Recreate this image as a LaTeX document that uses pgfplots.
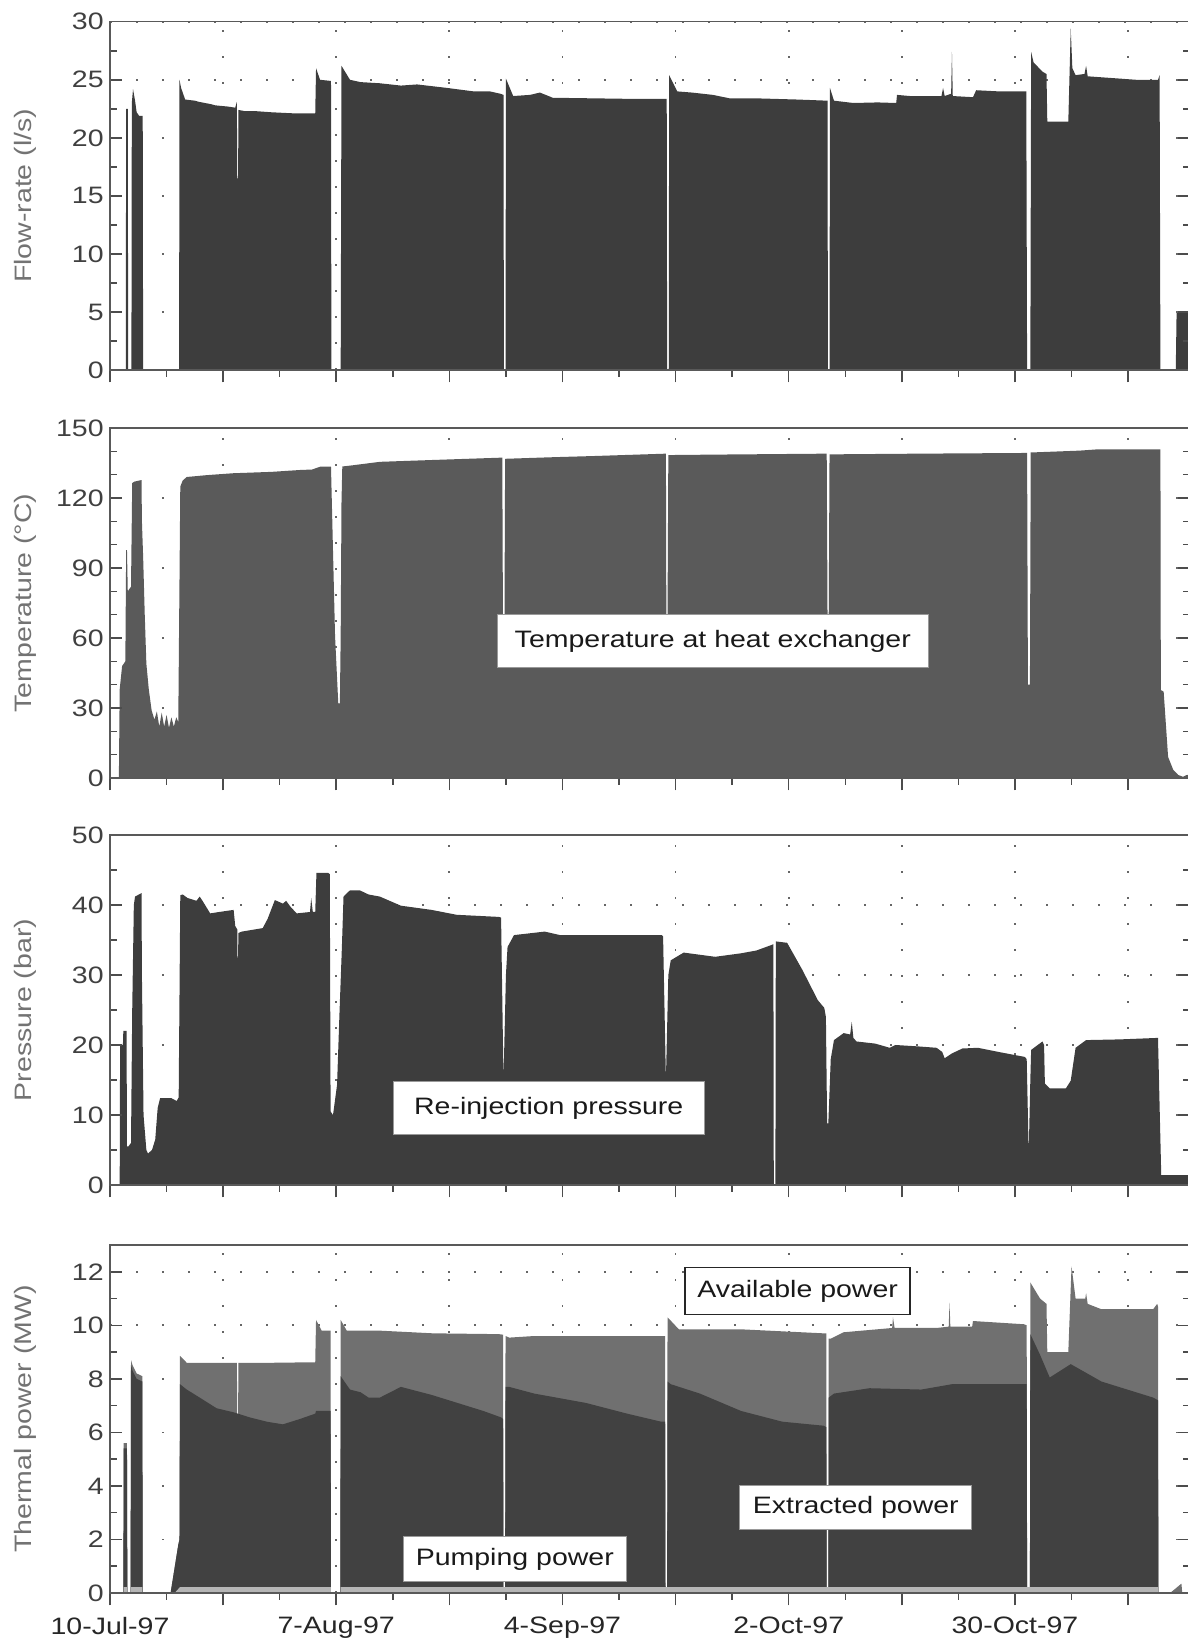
\documentclass[border=0pt]{standalone}
\usepackage{pgfplots}
\pgfplotsset{compat=1.18}
\usepackage{fontspec}
\setmainfont{Liberation Sans}[FakeStretch=1.2]
\definecolor{flowc}{HTML}{3D3D3D}
\definecolor{tempc}{HTML}{5A5A5A}
\definecolor{presc}{HTML}{3D3D3D}
\definecolor{availc}{HTML}{707070}
\definecolor{extrc}{HTML}{414141}
\definecolor{pumpc}{HTML}{B5B5B5}
\newcommand{\tf}{\fontsize{9.5}{11}\selectfont}
\tikzset{box/.style={fill=white, draw=black!40, line width=0.4pt, inner sep=0pt, font=\tf, text=black!90, anchor=center}}
\pgfplotsset{
  layers/mylayers/.define layer set={axis background,axis grid,main,axis ticks,axis lines,axis tick labels,axis descriptions,axis foreground}{
    grid style={/pgfplots/on layer=axis grid},
    tick style={/pgfplots/on layer=axis ticks},
    axis line style={/pgfplots/on layer=axis lines},
    label style={/pgfplots/on layer=axis descriptions},
    legend style={/pgfplots/on layer=axis descriptions},
    title style={/pgfplots/on layer=axis descriptions},
    colorbar style={/pgfplots/on layer=axis descriptions},
    ticklabel style={/pgfplots/on layer=axis tick labels},
    axis background@ style={/pgfplots/on layer=axis background},
    3d box foreground style={/pgfplots/on layer=axis foreground},
  },
  panel/.style={
    set layers=mylayers,
    scale only axis, width=432pt, anchor=south west,
    xmin=0, xmax=133.66, ymin=0,
    xtick={0,14,...,126}, minor x tick num=1,
    xtick pos=left,
    tick align=inside,
    major tick length=5pt, minor tick length=2.8pt,
    major x tick style={yshift=-5pt}, minor x tick style={yshift=-2.8pt},
    xmajorgrids, ymajorgrids,
    grid style={black!60, line width=0.7pt, dash pattern=on 0.7pt off 9.7pt},
    axis line style={black!65, line width=0.6pt},
    tick style={black!70, line width=0.6pt},
    yticklabel style={font=\tf, text=black!75, xshift=1pt},
    xticklabel style={font=\tf, text=black!85, yshift=-6pt},
    every axis y label/.style={at={(axis description cs:-0.0787,0.5)},rotate=90,anchor=center,font=\tf,text=black!55},
    /pgf/number format/assume math mode=true,
  },
}
\begin{document}
\begin{tikzpicture}
% ---------------- Panel 1: flow rate
\begin{axis}[panel, at={(0,489.2pt)}, height=139.3pt, ymax=30,
  ytick={0,5,...,30}, minor y tick num=1, xticklabels={},
  ylabel={Flow-rate (l/s)}]
\addplot[fill=flowc, draw=none] coordinates {
(1.95,0)(2.0,22.5)(2.2,22.5)(2.25,0)(2.65,0)(2.7,23.0)(2.85,24.2)(3.1,23.2)(3.3,22.2)(3.6,21.9)(4.05,21.9)(4.1,0)
(8.55,0)(8.6,25.0)(8.8,24.3)(9.3,23.3)(10.5,23.2)(11,23.1)(12.5,22.9)(13,22.8)(14.5,22.7)(15.5,22.6)(15.7,23.1)(15.75,16.5)(15.85,16.5)(15.9,22.4)(16.7,22.3)(18,22.3)(20,22.2)(23,22.1)(25.4,22.1)(25.5,26.0)(26.0,25.0)(27.35,24.9)(27.4,0)
(28.55,0)(28.65,26.2)(29.7,25.0)(31,24.8)(33.4,24.7)(36,24.5)(38,24.6)(41.7,24.3)(45,24.0)(47,24.0)(48.3,23.8)(48.7,23.7)(48.75,0)(48.95,0)(49.0,25.1)(49.9,23.6)(52,23.7)(53.2,23.9)(54.8,23.45)(60,23.4)(65,23.35)(68.9,23.35)(68.95,0)(69.15,0)(69.2,25.4)(70.2,24.0)(72,23.9)(74.6,23.7)(76.7,23.4)(80,23.4)(85,23.3)(88.8,23.2)(88.85,0)(89.05,0)(89.1,24.3)(89.6,23.2)(92,23.0)(95,23.05)(97.3,23.0)(97.4,23.7)(99,23.6)(102.9,23.6)(103.1,24.3)(103.3,23.6)(104.1,23.8)(104.2,27.4)(104.3,23.6)(106.8,23.5)(107.2,24.1)(110,24.0)(113.4,24.0)(113.5,0)(113.9,0)(114.0,27.4)(114.3,26.5)(115.4,25.7)(115.9,25.5)(116.0,21.4)(118.6,21.4)(118.9,29.4)(119.1,26.0)(119.5,25.4)(120.6,25.5)(120.8,26.2)(121.0,25.3)(125,25.1)(127,25.0)(129.7,25.0)(129.9,25.4)(130.0,0)(131.9,0)(132.0,4.9)(133.66,4.9)
} \closedcycle;
\end{axis}
% ---------------- Panel 2: temperature
\begin{axis}[panel, at={(0,326pt)}, height=140pt, ymax=150,
  ytick={0,30,...,150}, minor y tick num=2, xticklabels={},
  ylabel={Temperature (\textdegree C)}]
\addplot[fill=tempc, draw=none] coordinates {
(1.1,0)(1.2,38)(1.5,48)(1.9,50)(2.0,97.7)(2.1,97.7)(2.2,80)(2.6,82)(2.75,126.4)(3.0,127)(3.9,127.7)(3.95,110)(4.1,94.9)(4.3,70)(4.5,49)(4.8,38)(5.15,29)(5.5,25)(5.8,28.5)(6.1,22)(6.4,28)(6.7,22)(7.0,27)(7.3,21.5)(7.6,26)(7.9,22)(8.2,26)(8.45,24)(8.7,124.9)(9.0,127.5)(9.5,129)(12,129.8)(15.2,130.6)(20,131.2)(23.5,132)(25,132.2)(26,133.4)(27.35,133.4)(27.85,61)(28.25,32)(28.45,32)(28.55,61)(28.65,118)(28.75,133.5)(30,134)(33.4,135.5)(40,136.3)(48.55,137.3)(48.65,50)(48.8,50)(48.9,136.8)(55,137.5)(60,138)(68.8,139)(68.85,70)(69.0,70)(69.1,138.4)(75,138.6)(88.7,139)(88.8,70)(88.95,70)(89.05,138.7)(100,139)(113.5,139.3)(113.6,40)(113.85,40)(113.95,139.5)(120,140.3)(122,140.8)(130.0,140.8)(130.05,37.7)(130.4,37)(130.95,9)(131.6,3.4)(132.2,1.3)(132.8,0.5)(133.2,1.2)(133.66,1.5)
} \closedcycle;
\node[box, minimum width=172.6pt, minimum height=21.2pt] at (axis cs:74.6,58.5) {Temperature at heat exchanger};
\end{axis}
% ---------------- Panel 3: pressure
\begin{axis}[panel, at={(0,163.2pt)}, height=140pt, ymax=50,
  ytick={0,10,...,50}, minor y tick num=1, xticklabels={},
  ylabel={Pressure (bar)}]
\addplot[fill=presc, draw=none] coordinates {
(1.2,0)(1.25,20)(1.6,20)(1.65,22)(2.05,22)(2.1,5.5)(2.27,5.5)(2.6,6)(2.75,25)(2.95,40)(3.1,41.2)(3.9,41.7)(3.95,30)(4.15,10)(4.5,5)(4.7,4.5)(5.2,5)(5.6,6.5)(5.9,11)(6.2,12.4)(7.6,12.4)(8.25,12)(8.5,12.5)(8.7,41.4)(9.0,41.5)(9.6,41)(10.7,40.6)(11.1,41.2)(11.5,40.5)(12.4,38.8)(13.5,39)(15.3,39.3)(15.5,37)(15.75,36.5)(15.8,30)(15.9,36)(16.3,36.2)(18.9,36.7)(19.5,38)(20.4,40.7)(21.4,40.2)(21.8,40.6)(22.3,39.8)(23.1,38.8)(24.75,39)(24.9,41)(25.1,39)(25.4,39)(25.55,44.6)(27.0,44.6)(27.2,44.4)(27.3,10.5)(27.6,10)(28.1,14.3)(28.4,24.5)(28.7,34)(28.9,41.2)(29.7,42.1)(30.9,42.1)(32,41.5)(33.4,41.2)(36,39.9)(39.8,39.3)(42.9,38.6)(48.1,38.3)(48.4,38.2)(48.7,15)(49.0,30)(49.2,34)(50,35.7)(53.8,36.2)(55.7,35.7)(68.3,35.7)(68.45,35.5)(68.8,15)(69.1,30)(69.4,32.1)(71,33.2)(74.9,32.6)(78.1,33.1)(80,33.5)(81.9,34.3)(82.1,34.4)(82.15,0)(82.35,0)(82.4,34.8)(83.8,34.6)(85.7,30.7)(87.6,26.4)(88.4,25.3)(88.6,24)(88.75,8.8)(88.9,8.8)(89.2,18)(89.6,20.7)(90.8,21.7)(91.6,21.5)(91.8,23.3)(92.0,21)(92.4,20.5)(94.7,20.2)(96.5,19.6)(97.2,20)(100,19.8)(102.3,19.6)(103.0,19)(103.3,18.1)(104.2,18.8)(105.5,19.5)(107.4,19.6)(110,19)(113.2,18.3)(113.45,18)(113.7,4.5)(113.9,15)(114.0,19.3)(115.4,20.5)(115.6,20)(115.7,14.5)(116.3,13.8)(118.3,13.8)(118.9,14.9)(119.5,19.6)(120.8,20.7)(125,20.8)(129.4,21)(129.7,21)(130.1,1.4)(133.66,1.4)
} \closedcycle;
\node[box, minimum width=124.4pt, minimum height=21.3pt] at (axis cs:54.3,11.0) {Re-injection pressure};
\end{axis}
% ---------------- Panel 4: thermal power
\begin{axis}[panel, at={(0,0)}, height=139.2pt, ymax=13,
  ytick={0,2,...,12}, minor y tick num=1,
  xticklabels={10-Jul-97,,7-Aug-97,,4-Sep-97,,2-Oct-97,,30-Oct-97,},
  ylabel={Thermal power (MW)}]
\addplot[fill=availc, draw=none] coordinates {
(1.65,0)(1.7,5.6)(2.1,5.6)(2.15,0)(2.55,0)(2.6,8.7)(2.8,8.5)(3.3,8.2)(4.0,8.1)(4.05,0)(7.5,0)(8.45,1.8)(8.6,2.0)(8.66,8.86)(9.5,8.6)(15.7,8.6)(15.75,6.6)(15.85,6.6)(15.9,8.6)(20,8.6)(25.4,8.62)(25.5,10.2)(26.2,9.8)(27.3,9.8)(27.35,0)(28.5,0)(28.55,10.2)(29.3,9.8)(33.4,9.8)(40,9.7)(48.1,9.67)(48.65,9.65)(48.7,0)(48.9,0)(48.95,9.6)(49.4,9.54)(52.5,9.6)(68.7,9.6)(68.75,0)(68.95,0)(69.0,10.3)(70.4,9.85)(78.1,9.85)(88.3,9.7)(88.65,9.7)(88.7,0)(88.9,0)(88.95,9.5)(89.2,9.5)(90.8,9.74)(96.8,9.9)(96.9,10.3)(97.1,9.9)(102.3,9.9)(103.8,9.95)(103.9,10.85)(104.0,9.95)(106.7,9.95)(106.8,10.16)(113.1,10.04)(113.45,10.0)(113.5,0)(113.85,0)(113.9,11.6)(115.1,11.0)(115.9,10.8)(116.0,9.0)(118.6,9.0)(119.0,12.2)(119.5,11.0)(120.7,11.0)(120.8,11.2)(121,10.8)(122.7,10.6)(129.1,10.6)(129.6,10.8)(129.7,10.7)(129.75,0)(131.2,0)(132.6,0.35)(132.7,0)
} \closedcycle;
\addplot[fill=extrc, draw=none] coordinates {
(1.65,0)(1.7,5.4)(2.1,5.4)(2.15,0)(2.55,0)(2.6,8.5)(2.8,8.3)(3.3,8.0)(4.0,7.9)(4.05,0)(7.5,0)(8.45,1.8)(8.6,2.0)(8.66,7.8)(9.5,7.6)(11.1,7.3)(13.2,6.9)(15.3,6.75)(17.3,6.56)(19.4,6.4)(21.4,6.3)(23.5,6.5)(25.4,6.7)(25.5,6.8)(27.3,6.8)(27.35,0)(28.5,0)(28.55,8.1)(29.7,7.6)(31,7.5)(32,7.3)(33.4,7.3)(36,7.7)(39.8,7.4)(46.2,6.8)(48.4,6.56)(48.65,6.5)(48.7,0)(48.9,0)(48.95,7.7)(49.4,7.7)(52.5,7.45)(58.9,7.1)(64,6.7)(68.2,6.4)(68.7,6.4)(68.75,0)(68.95,0)(69.0,7.9)(69.4,7.8)(73,7.45)(78.1,6.8)(83.2,6.4)(88.3,6.25)(88.65,6.2)(88.7,0)(88.9,0)(88.95,7.3)(89.6,7.45)(94,7.65)(100.4,7.6)(104.2,7.8)(110,7.8)(113.1,7.8)(113.45,7.8)(113.5,0)(113.85,0)(113.9,9.67)(115.1,8.9)(116.3,8.05)(118.9,8.55)(122.7,7.9)(129.1,7.3)(129.7,7.2)(129.75,0)
} \closedcycle;
\addplot[fill=pumpc, draw=none] coordinates {
(1.7,0)(1.7,0.22)(2.1,0.22)(2.1,0)(2.6,0)(2.6,0.22)(4.0,0.22)(4.0,0)(8.0,0)(8.66,0.22)(27.35,0.22)(27.35,0)(28.55,0)(28.55,0.22)(129.7,0.22)(129.7,0)
} \closedcycle;
\node[box, draw=black!85, line width=0.6pt, minimum width=90pt, minimum height=18.9pt] at (axis cs:85.1,11.28) {Available power};
\node[box, minimum width=92.8pt, minimum height=17.7pt] at (axis cs:92.3,3.2) {Extracted power};
\node[box, minimum width=89.2pt, minimum height=18.3pt] at (axis cs:50.1,1.27) {Pumping power};
\end{axis}
\pgfresetboundingbox
\path[use as bounding box] (-44pt,-22.4pt) rectangle (430.8pt,637.2pt);
\end{tikzpicture}
\end{document}
